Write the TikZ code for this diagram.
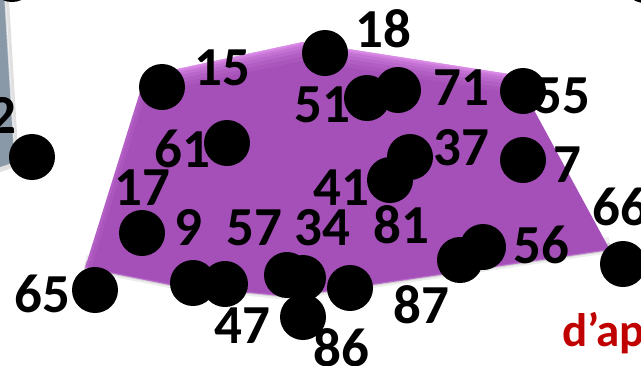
\documentclass[tikz,border=0pt]{standalone}
\usepackage{fontspec}
\setmainfont{Carlito}
\definecolor{purp}{RGB}{164,80,184}
\definecolor{pinkhl}{RGB}{245,165,255}
\definecolor{grayblue}{RGB}{138,153,168}
\definecolor{darkred}{RGB}{192,0,0}
\begin{document}
\begin{tikzpicture}[x=1pt,y=-1pt,
  dot/.style={circle,fill=black,minimum size=46pt,inner sep=0pt},
  lab/.style={font=\fontsize{55}{60}\selectfont\bfseries,inner sep=0pt,anchor=base},
]
\useasboundingbox (0,0) rectangle (641,365);
\clip (0,0) rectangle (641,365);
% polygon corners
\coordinate (p1) at (145,76);
\coordinate (p2) at (303,42);
\coordinate (p3) at (515,75);
\coordinate (p4) at (610,250);
\coordinate (p5) at (290,297);
\coordinate (p6) at (170,285);
\coordinate (p7) at (85,268);
% left grey shape
\fill[black,opacity=0.12] (0,0) -- (9,0) -- (19,166) -- (0,172) -- cycle;
\fill[grayblue] (0,-2) -- (5,-2) -- (15,162) -- (0,167) -- cycle;
\draw[white,opacity=0.6,line width=1.5pt] (5,-2) -- (15,162);
% shadow
\draw[black,opacity=0.07,line width=16pt,line join=round] ([yshift=5pt]p4) -- ([yshift=5pt]p5) -- ([yshift=5pt]p6) -- ([yshift=5pt]p7);
\draw[black,opacity=0.12,line width=8pt,line join=round] ([yshift=3pt]p4) -- ([yshift=3pt]p5) -- ([yshift=3pt]p6) -- ([yshift=3pt]p7);
% polygon
\fill[purp] (p1) -- (p2) -- (p3) -- (p4) -- (p5) -- (p6) -- (p7) -- cycle;
\begin{scope}
  \clip (p1) -- (p2) -- (p3) -- (p4) -- (p5) -- (p6) -- (p7) -- cycle;
  \foreach \w/\o in {36/0.08,28/0.1,20/0.13,13/0.18,7/0.25,3/0.35}
    \draw[pinkhl,opacity=\o,line width=\w pt,line join=round] (p1) -- (p2) -- (p3);
  \foreach \w/\o in {12/0.08,5/0.12}
    \draw[pinkhl,opacity=\o,line width=\w pt,line join=round] (p7) -- (p1);
  \draw[pinkhl,opacity=0.3,line width=2pt] (p4) -- (p5) -- (p6) -- (p7);
\end{scope}
% labels
\node[lab,anchor=base east] (l2) at (17,133) {2};
\node[lab] (l15) at (222,85) {15};
\node[lab] (l18) at (383,47) {18};
\node[lab] (l51) at (322,122) {51};
\node[lab] (l71) at (461,105) {71};
\node[lab] (l55) at (562,113) {55};
\node[lab] (l61) at (182,167) {61};
\node[lab] (l37) at (461,165) {37};
\node[lab] (l7) at (567,182) {7};
\node[lab] (l41) at (341,205) {41};
\node[lab] (l17) at (142,205) {17};
\node[lab] (l9) at (188,245) {9};
\node[lab] (l57) at (254,245) {57};
\node[lab] (l34) at (322,245) {34};
\node[lab] (l81) at (401,243) {81};
\node[lab] (l56) at (541,263) {56};
\node[lab,anchor=base west] (l66) at (592,225) {66};
\node[lab] (l65) at (42,312) {65};
\node[lab] (l47) at (242,343) {47};
\node[lab] (l86) at (341,366) {86};
\node[lab] (l87) at (421,323) {87};
\node[font=\fontsize{47}{50}\selectfont\bfseries,text=darkred,inner sep=0pt,anchor=base west] (dap) at (562,346) {d’ap};
% dots
\node[dot] (dtl) at (12,-21) {};
\node[dot] (dtr) at (645,-20) {};
\node[dot] (d2) at (32,157) {};
\node[dot] (d15) at (162,87) {};
\node[dot] (d18) at (325,53) {};
\node[dot] (d51) at (367,98) {};
\node[dot] (d71) at (398,90) {};
\node[dot] (d55) at (523,91) {};
\node[dot] (d61) at (227,143) {};
\node[dot] (d37) at (410,157) {};
\node[dot] (d41) at (390,180) {};
\node[dot] (d7) at (523,160) {};
\node[dot] (d9) at (142,233) {};
\node[dot] (d65) at (95,290) {};
\node[dot] (d47a) at (193,283) {};
\node[dot] (d47b) at (225,284) {};
\node[dot] (d57) at (287,275) {};
\node[dot] (d34) at (303,278) {};
\node[dot] (d86) at (303,317) {};
\node[dot] (d87) at (350,288) {};
\node[dot] (d81a) at (460,260) {};
\node[dot] (d81b) at (483,247) {};
\node[dot] (d66) at (623,264) {};
\end{tikzpicture}
\end{document}
